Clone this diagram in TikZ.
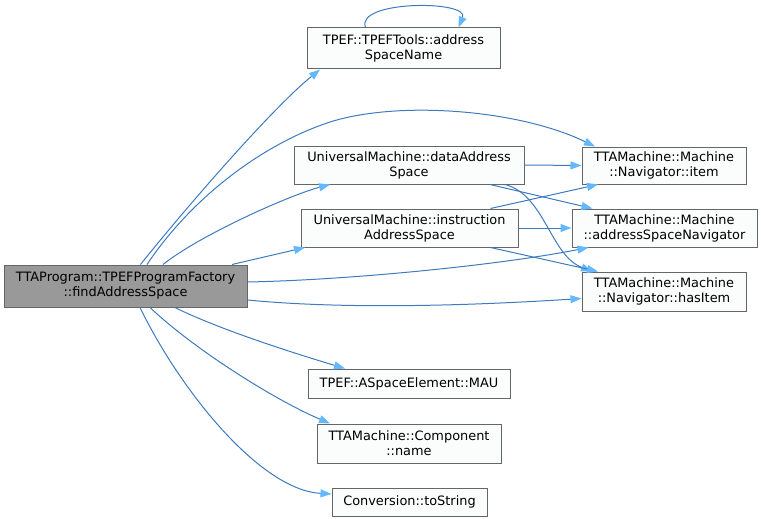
\documentclass[tikz,border=0pt]{standalone}
\usepackage{fontspec}
\setmainfont{DejaVu Sans}
\usetikzlibrary{arrows.meta}
\definecolor{edgec}{HTML}{3D7BBF}
\definecolor{arrc}{HTML}{63B8FF}
\definecolor{boxd}{HTML}{666666}
\definecolor{boxf}{HTML}{FBFCFC}
\definecolor{mainf}{HTML}{999999}
\begin{document}
\begin{tikzpicture}[x=1pt,y=-1pt,
 box/.style={draw=boxd, fill=boxf, line width=1pt, inner sep=0pt, align=center, font=\fontsize{12.9}{15}\selectfont},
 edge/.style={draw=edgec, line width=1pt, -{Triangle[length=11pt,width=8pt,color=arrc,fill=arrc]}}]
\useasboundingbox (0,0) rectangle (761,519);
\node[box, fill=mainf, minimum width=243pt, minimum height=42pt] (m) at (125.5,286) {TTAProgram::TPEFProgramFactory\\::findAddressSpace};
\node[box, minimum width=193pt, minimum height=41pt] (asn) at (403.5,48.5) {TPEF::TPEFTools::address\\SpaceName};
\node[box, minimum width=230pt, minimum height=38pt] (das) at (409,165) {UniversalMachine::dataAddress\\Space};
\node[box, minimum width=217pt, minimum height=38pt] (ias) at (409.5,228) {UniversalMachine::instruction\\AddressSpace};
\node[box, minimum width=164pt, minimum height=37pt] (it) at (664,165.5) {TTAMachine::Machine\\::Navigator::item};
\node[box, minimum width=185pt, minimum height=38pt] (asnav) at (664.5,228) {TTAMachine::Machine\\::addressSpaceNavigator};
\node[box, minimum width=164pt, minimum height=39pt] (hi) at (664,291.5) {TTAMachine::Machine\\::Navigator::hasItem};
\node[box, minimum width=202pt, minimum height=29pt] (mau) at (409,383.5) {TPEF::ASpaceElement::MAU};
\node[box, minimum width=184pt, minimum height=39pt] (cn) at (409,443.5) {TTAMachine::Component\\::name};
\node[box, minimum width=155pt, minimum height=28pt] (ts) at (409.5,502) {Conversion::toString};

% self loop
\draw[edge] ([xshift=-38pt]asn.north) .. controls (355,0) and (470,0) .. ([xshift=55pt]asn.north);
% from main
\draw[edge] ([xshift=15pt]m.north) .. controls (180,215) and (270,110) .. ([xshift=-83.5pt]asn.south);
\coordinate (ibend) at (330,122);
\draw[edge] ([xshift=21.5pt]m.north) .. controls (190,200) and (260,145) .. (ibend) .. controls (400,100) and (520,110) .. ([xshift=-69pt]it.north);
\draw[edge] ([xshift=37.5pt]m.north) .. controls (200,235) and (290,195) .. ([xshift=-79pt]das.south);
\draw[edge] ([xshift=106.5pt]m.north) -- ([xshift=-104.5pt]ias.south);
\draw[edge] ([yshift=4pt]m.east) .. controls (350,280) and (500,265) .. ([xshift=-76pt]asnav.south);
\draw[edge] ([yshift=-14pt]m.east) .. controls (350,310) and (480,305) .. ([yshift=-7pt]hi.west);
\draw[edge] ([xshift=49.5pt]m.south) .. controls (220,330) and (300,355) .. ([xshift=-64pt]mau.north);
\draw[edge] ([xshift=24.5pt]m.south) .. controls (195,350) and (275,400) .. ([xshift=-79pt]cn.north);
\draw[edge] ([xshift=14.5pt]m.south) .. controls (180,390) and (260,490) .. ([yshift=8pt]ts.west);
% from das
\draw[edge] (das.east) -- (it.west);
\draw[edge] ([xshift=81pt]das.south) -- ([xshift=-72pt]asnav.north);
\draw[edge] ([xshift=96pt]das.south) .. controls (545,195) and (550,255) .. ([xshift=-72pt]hi.north);
% from ias
\draw[edge] ([xshift=81pt]ias.north) -- ([xshift=-66pt]it.south);
\draw[edge] (ias.east) -- (asnav.west);
\draw[edge] ([xshift=81pt]ias.south) -- ([xshift=-66pt]hi.north);
\end{tikzpicture}
\end{document}
